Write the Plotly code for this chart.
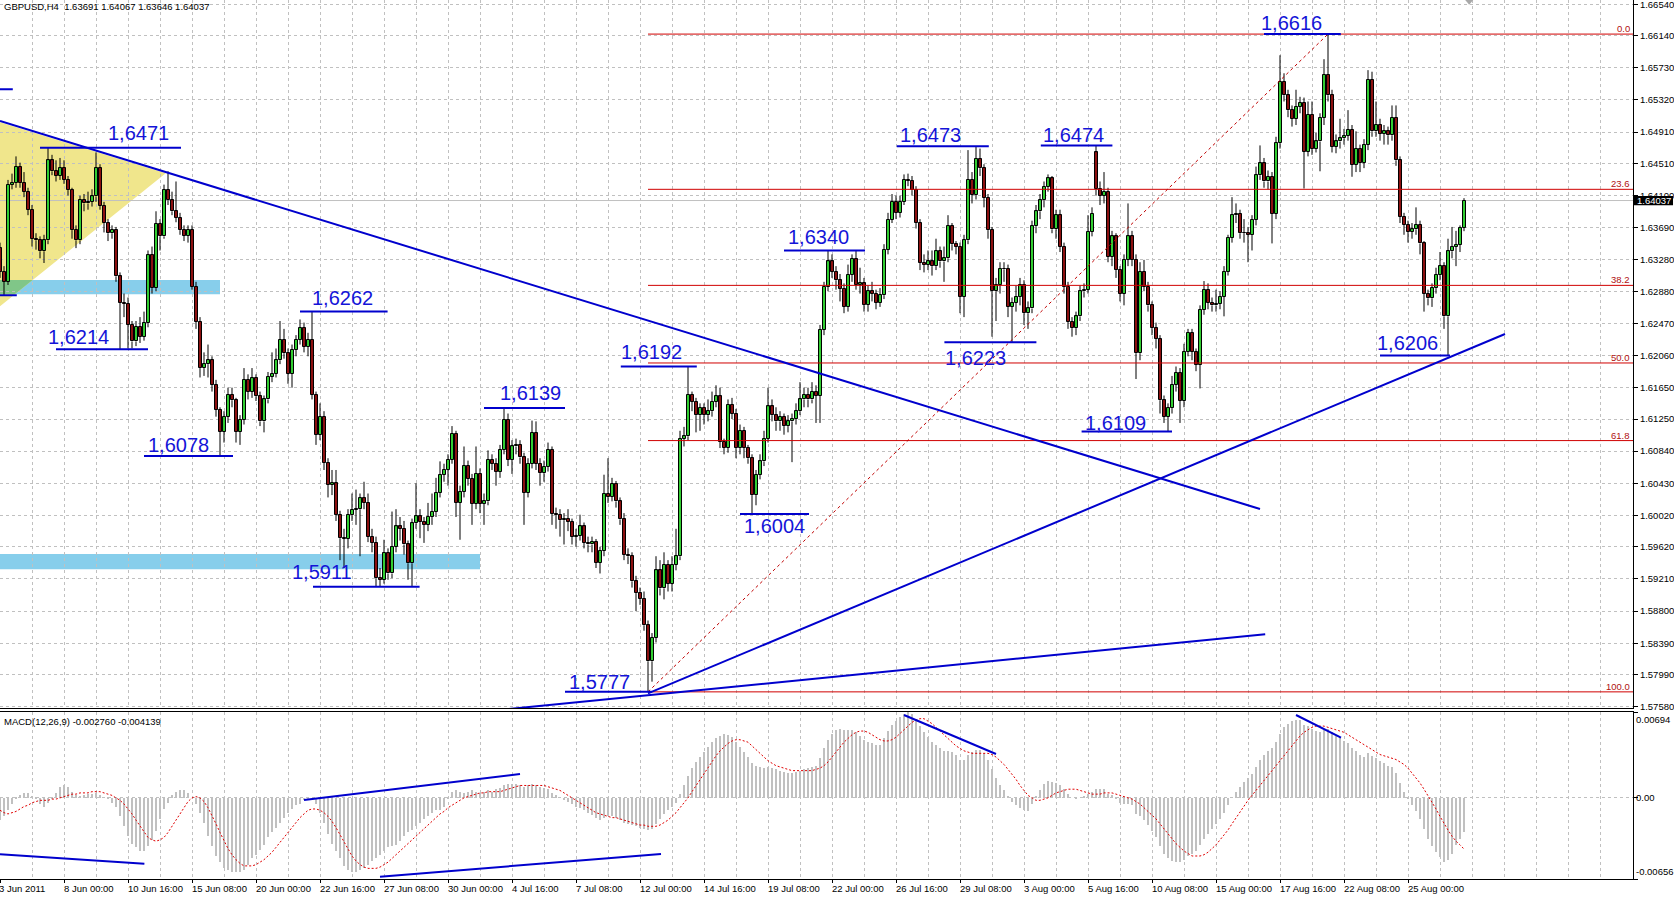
import plotly.graph_objects as go

# ---------------- data (prices in 1e-4 units, MACD in 1e-4 units) ----------------
time_labels = ["3 Jun 2011", "8 Jun 00:00", "10 Jun 16:00", "15 Jun 08:00", "20 Jun 00:00",
               "22 Jun 16:00", "27 Jun 08:00", "30 Jun 00:00", "4 Jul 16:00", "7 Jul 08:00",
               "12 Jul 00:00", "14 Jul 16:00", "19 Jul 08:00", "22 Jul 00:00", "26 Jul 16:00",
               "29 Jul 08:00", "3 Aug 00:00", "5 Aug 16:00", "10 Aug 08:00", "15 Aug 00:00",
               "17 Aug 16:00", "22 Aug 08:00", "25 Aug 00:00"]
time_label_bars = list(range(0, 353, 16))

first_open = 16343
gap_opens = {274: 16465}

close_p = [
16313,16300,16424,16426,16447,16426,16415,16392,16355,16353,
16339,16353,16455,16441,16435,16445,16430,16417,16366,16353,
16405,16400,16402,16409,16445,16397,16375,16362,16366,16307,
16273,16272,16245,16224,16243,16230,16248,16334,16292,16374,
16358,16417,16404,16390,16382,16366,16359,16366,16294,16249,
16190,16195,16200,16169,16137,16109,16128,16156,16149,16109,
16124,16175,16160,16177,16154,16122,16150,16179,16183,16200,
16226,16209,16183,16213,16226,16241,16217,16226,16156,16105,
16128,16069,16041,16043,16003,15973,15972,16003,16009,16010,
16024,16018,15975,15967,15922,15920,15954,15928,15962,15988,
15985,15965,15941,15992,16001,15994,15990,16000,16007,16031,
16054,16060,16073,16106,16018,16032,16065,16049,16017,16055,
16017,16020,16073,16068,16058,16086,16124,16073,16090,16092,
16076,16031,16068,16107,16068,16056,16064,16086,16004,16003,
15996,15998,15994,15975,15976,15988,15967,15965,15968,15942,
15957,16030,16026,16042,16020,15997,15952,15950,15918,15903,
15896,15862,15816,15846,15932,15909,15939,15915,15939,15950,
16100,16103,16156,16147,16130,16139,16130,16135,16147,16154,
16096,16088,16143,16132,16088,16110,16088,16075,16028,16054,
16071,16100,16141,16130,16122,16128,16116,16122,16125,16135,
16150,16156,16150,16160,16155,16239,16294,16326,16313,16302,
16291,16268,16309,16329,16296,16298,16271,16288,16285,16273,
16283,16341,16379,16402,16388,16402,16430,16429,16417,16375,
16324,16322,16326,16320,16339,16326,16330,16371,16348,16345,
16281,16353,16430,16411,16457,16445,16407,16366,16288,16296,
16317,16316,16268,16273,16281,16296,16260,16266,16371,16390,
16404,16421,16432,16367,16385,16345,16294,16249,16241,16256,
16288,16290,16364,16387,16418,16410,16415,16332,16358,16315,
16285,16328,16358,16328,16209,16313,16294,16270,16241,16227,
16149,16128,16139,16169,16184,16148,16211,16235,16211,16194,
16264,16290,16273,16270,16272,16281,16313,16356,16385,16387,
16362,16362,16360,16379,16436,16451,16428,16434,16387,16477,
16555,16538,16519,16508,16523,16528,16466,16513,16470,16479,
16509,16564,16538,16472,16479,16483,16486,16494,16449,16470,
16452,16475,16558,16492,16500,16489,16492,16487,16509,16455,
16383,16373,16364,16367,16373,16349,16285,16279,16292,16309,
16320,16256,16339,16345,16347,16369.1,16403.7]

high_p = [
16350,16320,16430,16438,16460,16452,16440,16420,16398,16362,
16358,16360,16471,16462,16455,16458,16455,16435,16420,16372,
16410,16412,16415,16418,16465,16450,16402,16380,16372,16370,
16312,16285,16280,16250,16250,16255,16262,16340,16345,16390,
16380,16424,16441,16415,16428,16388,16372,16372,16372,16300,
16255,16210,16220,16205,16175,16140,16135,16165,16165,16152,
16130,16190,16182,16190,16182,16160,16155,16185,16210,16215,
16250,16240,16215,16220,16232,16252,16248,16235,16262,16160,
16145,16135,16075,16060,16060,16008,15985,16010,16030,16035,
16030,16045,16030,15985,15975,15935,15971,15960,16007,16010,
16000,15995,15970,15998,16043,16010,16000,16018,16030,16050,
16071,16068,16080,16116,16110,16040,16090,16072,16055,16090,
16062,16030,16085,16080,16075,16092,16139,16132,16098,16100,
16098,16082,16075,16123,16122,16075,16072,16095,16090,16012,
16010,16005,16010,15998,15985,16003,15993,15975,15975,15972,
15962,16054,16075,16050,16046,16025,16005,15960,15955,15925,
15910,15905,15868,15852,15950,15945,15955,15945,15950,15985,
16110,16115,16192,16160,16152,16145,16145,16150,16160,16168,
16165,16100,16150,16152,16138,16118,16115,16092,16080,16060,
16080,16110,16165,16150,16140,16135,16132,16130,16132,16145,
16172,16165,16165,16172,16168,16245,16300,16340,16335,16320,
16310,16298,16322,16335,16340,16318,16305,16295,16300,16290,
16292,16348,16388,16412,16410,16410,16437,16438,16435,16422,
16380,16335,16340,16340,16355,16345,16345,16385,16375,16352,
16350,16360,16468,16440,16473,16470,16450,16412,16370,16305,
16325,16325,16322,16280,16295,16305,16302,16275,16378,16398,
16412,16428,16437,16435,16392,16392,16350,16300,16255,16262,
16295,16298,16385,16395,16474,16428,16440,16420,16365,16362,
16320,16335,16400,16365,16335,16325,16328,16300,16275,16248,
16232,16155,16145,16180,16192,16190,16221,16240,16240,16215,
16270,16301,16298,16280,16290,16288,16320,16360,16408,16400,
16392,16380,16370,16385,16447,16474,16458,16442,16440,16485,
16589,16566,16545,16525,16545,16536,16535,16530,16530,16490,
16515,16584,16616,16545,16488,16508,16495,16519,16500,16492,
16475,16482,16570,16568,16530,16508,16500,16498,16525,16525,
16460,16388,16378,16375,16395,16378,16352,16290,16298,16318,
16338,16325,16355,16370,16365,16372,16406.7]

low_p = [
16305,16283,16296,16418,16420,16420,16408,16385,16345,16341,
16330,16324,16348,16436,16428,16430,16425,16410,16355,16343,
16348,16390,16392,16396,16402,16392,16363,16352,16355,16300,
16214,16255,16215,16215,16218,16222,16225,16242,16285,16288,
16340,16355,16398,16385,16376,16360,16352,16350,16290,16240,
16178,16180,16178,16160,16128,16078,16095,16120,16140,16095,
16092,16118,16150,16152,16148,16116,16108,16145,16172,16178,
16195,16202,16170,16165,16205,16220,16210,16205,16150,16092,
16098,16060,16025,16028,15995,15945,15935,15960,15995,15990,
15950,16010,15968,15955,15911,15912,15915,15920,15922,15955,
15970,15952,15920,15911,15985,15973,15967,15982,15990,16000,
16025,16045,16040,16068,16000,15971,16025,16040,15990,16010,
16005,15990,16015,16060,16040,16050,16080,16065,16055,16080,
16068,15990,16025,16062,16060,16040,16045,16058,15990,15985,
15975,15965,15982,15965,15962,15970,15960,15955,15955,15935,
15928,15950,16018,16020,16012,15990,15945,15940,15910,15880,
15888,15855,15777,15790,15840,15900,15895,15905,15905,15932,
15945,16090,16098,16135,16108,16110,16118,16122,16128,16140,
16088,16080,16082,16125,16075,16080,16075,16068,16004,16015,
16048,16065,16095,16122,16110,16110,16105,16108,16070,16118,
16130,16140,16140,16145,16120,16120,16232,16288,16305,16290,
16275,16260,16262,16300,16290,16285,16262,16262,16275,16265,
16268,16278,16335,16375,16380,16382,16398,16422,16410,16368,
16315,16312,16315,16308,16315,16318,16300,16325,16340,16335,
16260,16255,16348,16400,16405,16435,16395,16355,16230,16250,
16285,16300,16255,16223,16262,16270,16245,16240,16260,16362,
16380,16395,16415,16362,16355,16338,16285,16240,16230,16232,
16250,16280,16285,16358,16410,16398,16400,16325,16320,16305,
16275,16270,16320,16320,16176,16200,16288,16262,16232,16215,
16132,16120,16109,16132,16160,16120,16140,16205,16200,16186,
16164,16258,16265,16262,16262,16265,16256,16308,16350,16375,
16355,16350,16325,16340,16372,16430,16420,16418,16349,16380,
16470,16530,16510,16498,16500,16515,16419,16460,16462,16465,
16441,16500,16530,16465,16464,16470,16475,16480,16434,16440,
16440,16445,16468,16485,16485,16480,16475,16475,16480,16448,
16375,16360,16350,16355,16360,16335,16262,16270,16268,16285,
16302,16240,16206,16330,16320,16338,16364.6]

macd_main = [
-18,-15,-10,-5,-1,2,4,4,1,-1,
-5,-7,-4,-1,4,9,10,9,5,2,
1,2,3,3,4,2,0,-1,-4,-7,
-15,-23,-31,-37,-40,-43,-43,-39,-34,-27,
-17,-9,-4,2,5,6,6,4,0,-5,
-12,-20,-31,-39,-47,-52,-57,-58,-60,-60,
-60,-58,-54,-49,-46,-42,-38,-32,-28,-24,
-20,-16,-12,-9,-6,-5,-2,-1,-2,-5,
-12,-20,-29,-37,-43,-49,-55,-58,-60,-60,
-58,-57,-54,-51,-49,-46,-43,-40,-39,-38,
-35,-31,-28,-26,-23,-20,-17,-15,-12,-10,
-10,-7,-1,5,6,5,4,5,6,5,
4,5,6,5,7,8,10,11,11,11,
10,9,10,11,10,9,8,7,4,2,
0,-2,-3,-5,-7,-8,-10,-12,-14,-16,
-18,-16,-15,-15,-16,-18,-20,-21,-22,-23,
-24,-25,-26,-25,-21,-17,-13,-10,-7,-4,
3,10,18,24,29,33,37,41,45,48,
50,52,51,49,45,41,37,33,28,26,
25,24,25,24,23,22,21,20,20,21,
22,23,24,25,26,32,40,47,52,55,
56,55,55,55,53,50,47,45,44,43,
43,48,54,59,62,65,68,69,68,64,
58,53,49,45,43,40,38,38,37,35,
31,31,35,37,39,39,36,31,23,16,
10,6,1,-3,-6,-8,-10,-11,-5,1,
6,11,14,13,12,10,7,3,0,-1,
0,1,3,5,7,7,7,3,2,-1,
-4,-5,-5,-6,-13,-15,-18,-22,-27,-32,
-39,-45,-49,-51,-52,-52,-50,-47,-45,-43,
-38,-33,-29,-25,-21,-17,-12,-6,0,5,
9,13,16,19,25,31,35,38,40,45,
52,57,60,62,63,63,59,58,56,54,
53,55,56,53,50,48,46,44,40,38,
35,33,36,34,32,30,28,26,25,20,
12,5,-1,-6,-11,-17,-25,-33,-39,-44,
-48,-52,-50,-45,-38,-33,-27.6]

macd_signal = [
-10,-12,-13,-12,-11,-9,-7,-6,-4,-3,
-2,-2,-2,-1,-1,0,1,2,3,3,
4,4,4,5,5,5,4,3,2,0,
-2,-5,-9,-13,-18,-23,-28,-32,-34,-35,
-34,-32,-28,-23,-17,-12,-7,-3,0,1,
0,-3,-8,-14,-21,-28,-35,-41,-46,-50,
-53,-55,-55,-55,-54,-52,-50,-47,-44,-40,
-36,-32,-28,-24,-20,-16,-13,-10,-9,-9,
-10,-12,-15,-19,-24,-30,-36,-42,-47,-51,
-54,-56,-57,-57,-57,-56,-54,-52,-49,-46,
-43,-40,-37,-34,-31,-28,-25,-22,-19,-16,
-13,-11,-8,-6,-4,-2,0,1,2,3,
4,4,5,5,5,5,6,7,8,9,
10,10,10,10,10,10,10,9,8,7,
6,4,2,0,-2,-4,-6,-8,-10,-12,
-13,-14,-15,-16,-16,-17,-18,-19,-20,-21,
-22,-22,-23,-23,-23,-22,-20,-18,-15,-12,
-8,-4,0,5,10,15,20,25,30,34,
38,41,44,46,47,47,46,45,42,39,
36,33,30,28,26,25,24,23,22,22,
22,22,22,22,23,24,26,29,33,37,
41,45,48,51,53,54,54,53,51,49,
47,46,46,47,49,52,55,58,61,63,
64,64,62,60,57,54,51,48,45,42,
40,38,37,36,36,36,36,36,35,33,
30,27,23,19,15,10,6,2,0,-2,
-2,-1,0,2,4,5,6,7,7,7,
6,5,4,3,3,3,4,4,4,3,
2,1,0,-1,-3,-5,-8,-11,-14,-17,
-21,-25,-29,-33,-37,-40,-43,-45,-47,-47,
-47,-46,-44,-41,-38,-34,-30,-26,-21,-16,
-11,-6,-2,2,6,10,14,18,22,26,
30,34,38,42,46,50,53,55,57,58,
58,58,57,56,55,54,53,51,49,47,
45,43,41,39,37,35,34,33,32,31,
29,27,24,20,16,12,7,2,-3,-9,
-15,-21,-26,-31,-35,-38,-41.39]

price_ticks = [1.66540, 1.66140, 1.65730, 1.65320, 1.64910, 1.64510, 1.64100, 1.63690,
               1.63280, 1.62880, 1.62470, 1.62060, 1.61650, 1.61250, 1.60840, 1.60430,
               1.60020, 1.59620, 1.59210, 1.58800, 1.58390, 1.57990, 1.57580]
macd_max, macd_min = 0.00694, -0.00656
last_price = 1.64037

# swing-level markers: (text, price, line bar from, line bar to, text bar, text price)
levels = [
    ("1,6471", 1.6471, 10.0, 45.25, 27.0, 1.64898),
    ("1,6214", 1.6214, 14.0, 37.0, 12.0, 1.62300),
    ("1,6078", 1.6078, 36.0, 58.25, 37.0, 1.60919),
    ("1,6262", 1.6262, 75.0, 96.9, 78.0, 1.62794),
    ("1,5911", 1.5911, 78.25, 104.9, 73.1, 1.59305),
    ("1,6139", 1.6139, 121.0, 141.25, 125.0, 1.61578),
    ("1,6192", 1.6192, 155.2, 174.2, 155.2, 1.62109),
    ("1,5777", 1.5777, 141.25, 162.9, 142.25, 1.57900),
    ("1,6004", 1.6004, 185.0, 202.25, 186.0, 1.59886),
    ("1,6340", 1.6340, 196.0, 216.25, 197.0, 1.63576),
    ("1,6473", 1.6473, 224.2, 247.2, 225.0, 1.64879),
    ("1,6474", 1.6474, 260.2, 278.1, 260.75, 1.64879),
    ("1,6223", 1.6223, 236.1, 259.1, 236.25, 1.62025),
    ("1,6109", 1.6109, 270.4, 293.0, 271.2, 1.61196),
    ("1,6616", 1.6616, 316.0, 335.2, 315.25, 1.66305),
    ("1,6206", 1.6206, 345.0, 362.5, 344.2, 1.62216),
]
fib_low, fib_high = 1.5777, 1.6616
fib_start_bar, fib_high_bar = 162, 332
fib_ratios = [0.0, 23.6, 38.2, 50.0, 61.8, 100.0]

# trend lines in price pane: (bar0, price0, bar1, price1)
trend_lines = [
    (0.0, 1.65051, 315.0, 1.60103),
    (162.0, 1.57750, 376.25, 1.62335),
    (120.0, 1.57515, 316.3, 1.58506),
    (-5.0, 1.65456, 3.2, 1.65456),
    (-5.0, 1.62830, 4.2, 1.62830),
]
# trend lines in MACD pane
macd_lines = [
    (0.0, -0.004563, 36.1, -0.005323),
    (76.0, -0.000174, 130.0, 0.001928),
    (95.0, -0.006374, 165.25, -0.004539),
    (226.0, 0.006697, 249.0, 0.003545),
    (324.0, 0.006697, 335.25, 0.004862),
]
# zones
rect_zones = [(-5.0, 55.0, 1.62841, 1.63023), (-5.0, 120.0, 1.59334, 1.59529)]
triangle = [(-10.0, 1.65192), (41.43, 1.64384), (-10.0, 1.62280)]

# ---------------- build ----------------
FONT = "Liberation Sans, Arial, sans-serif"
N = len(close_p)
sc = 1e-4
C = [v * sc for v in close_p]
Hh = [v * sc for v in high_p]
Ll = [v * sc for v in low_p]
O = []
for j in range(N):
    if j == 0:
        O.append(first_open * sc)
    elif j in gap_opens:
        O.append(gap_opens[j] * sc)
    else:
        O.append(C[j - 1])

bars = list(range(N))
up = [j for j in bars if C[j] >= O[j]]
dn = [j for j in bars if C[j] < O[j]]

fig = go.Figure()

# wicks (split so they do not cross bodies)
wx, wy = [], []
for j in bars:
    top, bot = max(O[j], C[j]), min(O[j], C[j])
    wx += [j, j, None, j, j, None]
    wy += [Hh[j], top, None, bot, Ll[j], None]
fig.add_trace(go.Scatter(x=wx, y=wy, mode="lines", line=dict(color="black", width=1),
                         hoverinfo="skip", xaxis="x", yaxis="y"))

for idx, col in ((up, "#32CD32"), (dn, "#8B1010")):
    fig.add_trace(go.Bar(
        x=idx,
        y=[max(abs(C[j] - O[j]), 0.00001) for j in idx],
        base=[min(O[j], C[j]) for j in idx],
        width=0.75, marker=dict(color=col, line=dict(color="black", width=1)),
        xaxis="x", yaxis="y", hoverinfo="skip"))

# MACD
fig.add_trace(go.Bar(x=bars, y=[v * sc for v in macd_main], width=0.5,
                     marker=dict(color="#C0C0C0", line=dict(width=0)),
                     xaxis="x2", yaxis="y2", hoverinfo="skip"))
fig.add_trace(go.Scatter(x=bars, y=[v * sc for v in macd_signal], mode="lines",
                         line=dict(color="#E00000", width=1, dash="2px,2px"),
                         xaxis="x2", yaxis="y2", hoverinfo="skip"))

shapes = []
annotations = []
XR = [0, 408.25]

# zones / triangle (background)
for x0, x1, p0, p1 in rect_zones:
    shapes.append(dict(type="rect", xref="x", yref="y", x0=x0, x1=x1, y0=p0, y1=p1,
                       fillcolor="#87CEEB", line=dict(width=0), layer="below"))
tri_path = "M {} {} L {} {} L {} {} Z".format(*[v for pt in triangle for v in pt])
shapes.append(dict(type="path", xref="x", yref="y", path=tri_path,
                   fillcolor="#F0E68C", line=dict(width=0), layer="below"))
# overlap of triangle and first zone (MT4 mixes the colours)
(ax, ap), (bx, bp) = triangle[1], triangle[2]
def lower_edge_x(p):
    return ax + (p - ap) * (bx - ax) / (bp - ap)
z = rect_zones[0]
ov = "M {} {} L {} {} L {} {} L {} {} Z".format(z[0], z[3], lower_edge_x(z[3]), z[3],
                                               lower_edge_x(z[2]), z[2], z[0], z[2])
shapes.append(dict(type="path", xref="x", yref="y", path=ov,
                   fillcolor="#80C688", line=dict(width=0), layer="below"))

# current price line
shapes.append(dict(type="line", xref="x", yref="y", x0=XR[0], x1=XR[1], y0=last_price,
                   y1=last_price, line=dict(color="#C0C0C0", width=1), layer="below"))

# fibonacci
for r in fib_ratios:
    lv = fib_high - (fib_high - fib_low) * r / 100.0
    shapes.append(dict(type="line", xref="x", yref="y", x0=fib_start_bar, x1=XR[1], y0=lv, y1=lv,
                       line=dict(color="#D00000", width=1), layer="above"))
    annotations.append(dict(x=XR[1], y=lv, xref="x", yref="y", text="%.1f" % r, showarrow=False,
                            xanchor="right", yanchor="bottom", xshift=-1, yshift=-2,
                            font=dict(family=FONT, size=9.5, color="#B01010")))
shapes.append(dict(type="line", xref="x", yref="y", x0=fib_start_bar, y0=fib_low,
                   x1=fib_high_bar, y1=fib_high,
                   line=dict(color="#C00000", width=1, dash="3px,3px"), layer="above"))

# trend lines
for x0, p0, x1, p1 in trend_lines:
    shapes.append(dict(type="line", xref="x", yref="y", x0=x0, y0=p0, x1=x1, y1=p1,
                       line=dict(color="#0000CD", width=2), layer="above"))
for x0, p0, x1, p1 in macd_lines:
    shapes.append(dict(type="line", xref="x2", yref="y2", x0=x0, y0=p0, x1=x1, y1=p1,
                       line=dict(color="#0000CD", width=2), layer="above"))

# swing level markers
for txt, lv, lx0, lx1, tx, tp in levels:
    shapes.append(dict(type="line", xref="x", yref="y", x0=lx0, x1=lx1, y0=lv, y1=lv,
                       line=dict(color="#0000CD", width=2), layer="above"))
    annotations.append(dict(x=tx, y=tp, xref="x", yref="y", text=txt, showarrow=False,
                            xanchor="left", yanchor="middle", xshift=-2,
                            font=dict(family=FONT, size=20, color="#1414D8")))

# current price box on the axis
half = 4.6 / 7840.0
shapes.append(dict(type="rect", xref="paper", yref="y", x0=1.0, x1=1.0245,
                   y0=last_price - half, y1=last_price + half,
                   fillcolor="black", line=dict(width=0), layer="above"))
annotations.append(dict(x=1.0, y=last_price, xref="paper", yref="y", text="%.5f" % last_price,
                        showarrow=False, xanchor="left", yanchor="middle", xshift=2,
                        font=dict(family=FONT, size=9.5, color="white")))

# chart-shift marker
shapes.append(dict(type="path", xref="x", yref="paper",
                   path="M 366.3 1 L 368.3 1 L 367.3 0.9945 Z",
                   fillcolor="#A8A8A8", line=dict(width=0), layer="above"))

# header texts
annotations.append(dict(x=0, y=1, xref="paper", yref="paper",
                        text="GBPUSD,H4\u00a0 1.63691 1.64067 1.63646 1.64037",
                        showarrow=False, xanchor="left", yanchor="top", xshift=2, yshift=1,
                        font=dict(family=FONT, size=9.5, color="black")))
annotations.append(dict(x=0, y=macd_max, xref="paper", yref="y2",
                        text="MACD(12,26,9) -0.002760 -0.004139",
                        showarrow=False, xanchor="left", yanchor="top", xshift=2, yshift=-2,
                        font=dict(family=FONT, size=9.5, color="black")))

# MACD scale labels
for val, txt, anc in ((macd_max, "0.00694", "top"), (0.0, "0.00", "middle"),
                      (macd_min, "-0.00656", "bottom")):
    annotations.append(dict(x=1.0, y=val, xref="paper", yref="y2", text=txt, showarrow=False,
                            xanchor="left", yanchor=anc, xshift=1,
                            font=dict(family=FONT, size=9.5, color="black")))

# time labels
for b, t in zip(time_label_bars, time_labels):
    annotations.append(dict(x=b, y=0, xref="x2", yref="paper", text=t, showarrow=False,
                            xanchor="left", yanchor="top", xshift=-3 if b == 0 else -2, yshift=-2,
                            font=dict(family=FONT, size=9.5, color="black")))

GRID = dict(showgrid=True, gridcolor="#C0C0C0", griddash="3px,3px", gridwidth=1)
price_dom = [(879 - 708) / 879.0, 1.0]
macd_dom = [0.0, (879 - 712) / 879.0]

fig.update_layout(
    width=1674, height=899, margin=dict(l=0, r=41, t=0, b=20),
    paper_bgcolor="white", plot_bgcolor="white", showlegend=False,
    barmode="overlay", bargap=0,
    font=dict(family=FONT, size=9.5, color="black"),
    shapes=shapes, annotations=annotations,
    xaxis=dict(domain=[0, 1], range=XR, anchor="y", tickvals=list(range(0, 409, 8)),
               showticklabels=False, ticks="", zeroline=False,
               showline=True, linecolor="black", linewidth=1, **GRID),
    yaxis=dict(domain=price_dom, range=[1.575641, 1.665948], anchor="x", side="right",
               tickvals=price_ticks, ticktext=["%.5f" % v for v in price_ticks],
               ticks="outside", ticklen=4, tickcolor="black", zeroline=False,
               showline=True, linecolor="black", linewidth=1, ticklabeloverflow="allow",
               tickfont=dict(family=FONT, size=9.5, color="black"), **GRID),
    xaxis2=dict(domain=[0, 1], range=XR, anchor="y2", matches="x",
                tickvals=time_label_bars, showticklabels=False, ticks="outside", ticklen=3,
                tickcolor="black", zeroline=False, showline=True, mirror=True,
                linecolor="black", linewidth=1,
                minor=dict(dtick=8, tick0=0, showgrid=True, gridcolor="#C0C0C0",
                           griddash="3px,3px", ticks=""),
                **GRID),
    yaxis2=dict(domain=macd_dom, range=[macd_min, macd_max], anchor="x2", side="right",
                tickvals=[macd_max, 0.0, macd_min], showticklabels=False, ticks="outside",
                ticklen=4, tickcolor="black", zeroline=False, showline=True,
                linecolor="black", linewidth=1, **GRID),
)

fig.write_html("out.html", config={"displayModeBar": False},
               post_script="document.body.style.margin='0';document.body.style.overflow='hidden';")
